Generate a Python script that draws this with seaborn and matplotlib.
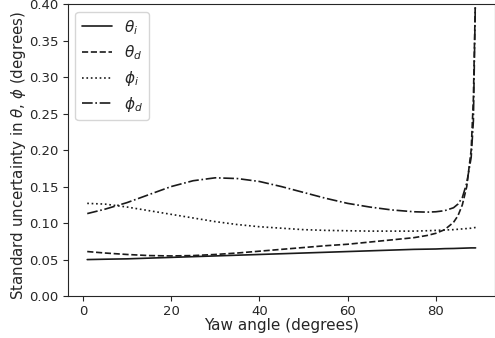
import numpy as np
import pandas as pd
import seaborn as sns
import matplotlib.pyplot as plt

# values
yaw = [1, 5, 10, 15, 20, 25, 30, 35, 40, 45, 50, 55, 60, 65, 70, 75, 78, 80,
       82, 84, 85, 86, 87, 88, 88.5, 89]
theta_i = [0.050, 0.0505, 0.051, 0.052, 0.053, 0.054, 0.055, 0.056, 0.057, 0.058,
           0.059, 0.060, 0.061, 0.062, 0.063, 0.064, 0.0643, 0.0645, 0.065, 0.0652,
           0.0654, 0.0656, 0.0658, 0.066, 0.066, 0.066]
theta_d = [0.061, 0.059, 0.057, 0.0555, 0.055, 0.0555, 0.057, 0.059, 0.0615, 0.064,
           0.0665, 0.069, 0.071, 0.074, 0.077, 0.080, 0.083, 0.086, 0.091, 0.101,
           0.110, 0.125, 0.150, 0.200, 0.270, 0.420]
phi_i = [0.127, 0.126, 0.122, 0.117, 0.112, 0.107, 0.102, 0.098, 0.095, 0.093,
         0.091, 0.090, 0.0895, 0.089, 0.089, 0.089, 0.0895, 0.090, 0.0905, 0.091,
         0.0915, 0.092, 0.0925, 0.093, 0.0935, 0.094]
phi_d = [0.113, 0.119, 0.128, 0.139, 0.150, 0.158, 0.162, 0.161, 0.157, 0.150,
         0.142, 0.134, 0.127, 0.122, 0.118, 0.1155, 0.115, 0.1155, 0.117, 0.121,
         0.126, 0.135, 0.155, 0.190, 0.240, 0.420]

labels = [r'$\theta_i$', r'$\theta_d$', r'$\phi_i$', r'$\phi_d$']
series = [theta_i, theta_d, phi_i, phi_d]
styles = ['-', '--', ':', '-.']

sns.set_style('ticks')
plt.rcParams['font.family'] = ['DejaVu Sans']

fig = plt.figure(figsize=(4.95, 3.38), dpi=100)
ax = fig.add_axes([0.137, 0.124, 0.863, 0.864])

for lab, vals, ls in zip(labels, series, styles):
    df = pd.DataFrame({'yaw': yaw, 'u': vals})
    sns.lineplot(data=df, x='yaw', y='u', ax=ax, color='.1', linestyle=ls,
                 linewidth=1.2, label=lab)

ax.set_ylim(0, 0.4)
ax.set_yticks(np.arange(0, 0.41, 0.05))
ax.set_xticks([0, 20, 40, 60, 80])
ax.tick_params(labelsize=9.5, colors='.15', pad=3)
ax.set_xlabel('Yaw angle (degrees)', fontsize=11, labelpad=0)
ax.set_ylabel(r'Standard uncertainty in $\theta$, $\phi$ (degrees)', fontsize=10.8)
ax.yaxis.set_label_coords(-0.094, 0.48)
ax.legend(loc='upper left', fontsize=11, frameon=True, labelspacing=0.45)

fig.savefig('out.png', dpi=100)
